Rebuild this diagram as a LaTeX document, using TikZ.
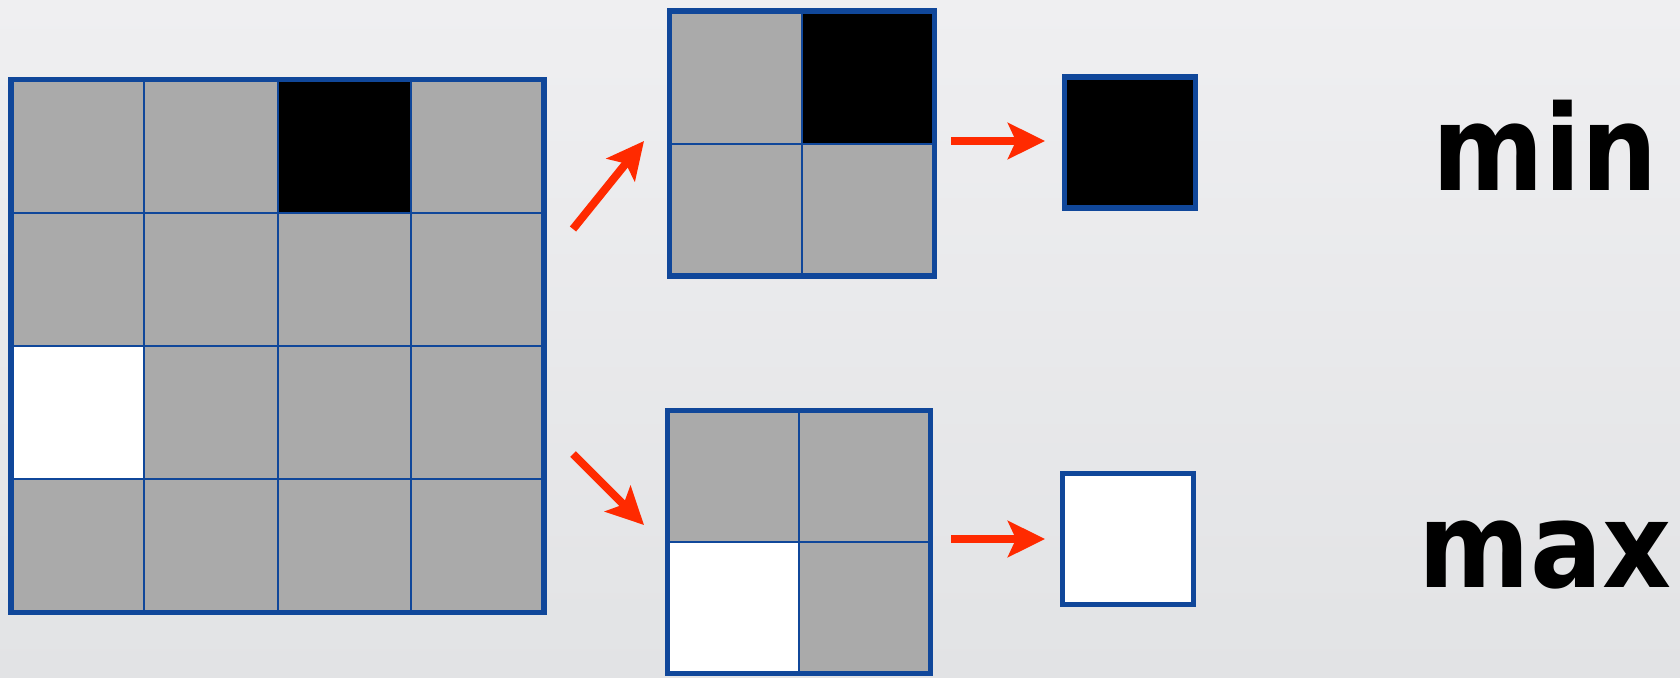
\documentclass[tikz,border=0pt]{standalone}
\usepackage{fontspec}
\newfontfamily\lblfont{DejaVu Sans}
\usetikzlibrary{arrows.meta,fit}
\definecolor{cellgray}{HTML}{AAAAAA}
\definecolor{gridblue}{HTML}{10479A}
\definecolor{arrowred}{HTML}{FF2A00}
\definecolor{bgtop}{HTML}{EFEFF1}
\definecolor{bgbot}{HTML}{E2E3E5}
\begin{document}
\begin{tikzpicture}[x=1pt,y=-1pt,
  cell/.style={draw=gridblue, line width=2pt, minimum size=#1, inner sep=0pt, outer sep=0pt},
  frame/.style={draw=gridblue, line width=5.5pt, inner sep=0pt},
  flow/.style={draw=arrowred, line width=8pt, -{Stealth[length=37pt,width=36pt,inset=8pt]}},
  lbl/.style={font=\lblfont\bfseries\fontsize{119}{119}\selectfont, anchor=base, inner sep=0pt}]
\useasboundingbox (0,0) rectangle (1680,677);
\fill[top color=bgtop, bottom color=bgbot] (0,0) rectangle (1680,677);
% big 4x4 grid
\foreach \r/\c/\col in {1/1/cellgray,1/2/cellgray,1/3/black,1/4/cellgray,
                        2/1/cellgray,2/2/cellgray,2/3/cellgray,2/4/cellgray,
                        3/1/white,3/2/cellgray,3/3/cellgray,3/4/cellgray,
                        4/1/cellgray,4/2/cellgray,4/3/cellgray,4/4/cellgray}{
  \node[cell=133.25pt, fill=\col] (b\r\c) at ({11+133.25*(\c-0.5)},{79.5+133.25*(\r-0.5)}) {};
}
\node[frame, fit=(b11)(b44)] (big) {};
% top 2x2 grid
\foreach \r/\c/\col in {1/1/cellgray,1/2/black,2/1/cellgray,2/2/cellgray}{
  \node[cell=132.5pt, fill=\col] (t\r\c) at ({669.5+132.5*(\c-0.5)},{11+132.5*(\r-0.5)}) {};
}
\node[frame, fit=(t11)(t22)] (topgrid) {};
% bottom 2x2 grid
\foreach \r/\c/\col in {1/1/cellgray,1/2/cellgray,2/1/white,2/2/cellgray}{
  \node[cell=131.5pt, fill=\col] (u\r\c) at ({667.5+131.5*(\c-0.5)},{410.5+131.5*(\r-0.5)}) {};
}
\node[frame, fit=(u11)(u22)] (botgrid) {};
% results
\node[frame, fill=black, minimum size=131pt] (minres) at (1130,142.5) {};
\node[frame, fill=white, minimum size=131pt] (maxres) at (1128,539) {};
% labels
\node[lbl] (minlbl) at (1545,190) {\scalebox{0.9}[1]{min}};
\node[lbl] (maxlbl) at (1545,587) {\scalebox{0.9}[1]{max}};
% arrows
\coordinate (a1s) at (573,229); \coordinate (a1e) at (644,141);
\coordinate (a2s) at (573,454); \coordinate (a2e) at (644,525);
\coordinate (a3s) at (951,141); \coordinate (a3e) at (1045,141);
\coordinate (a4s) at (951,539); \coordinate (a4e) at (1045,539);
\draw[flow] (a1s) -- (a1e);
\draw[flow] (a2s) -- (a2e);
\draw[flow] (a3s) -- (a3e);
\draw[flow] (a4s) -- (a4e);
\end{tikzpicture}
\end{document}
